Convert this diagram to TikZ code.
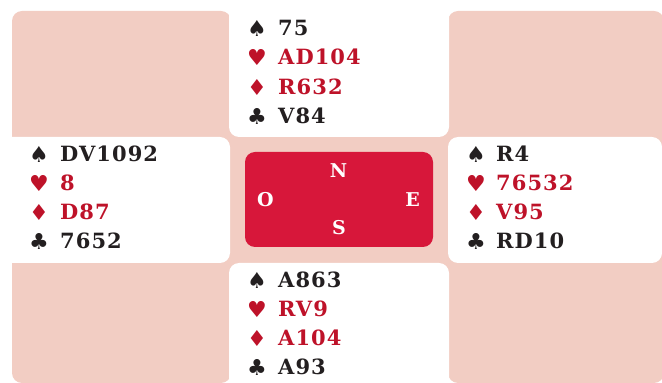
\documentclass[tikz,border=0pt]{standalone}
\usepackage{fontspec}
\newfontfamily\cardf[LetterSpace=5]{DejaVu Serif}
\newfontfamily\suitf{DejaVu Sans}
\definecolor{pinkbg}{HTML}{F2CDC3}
\definecolor{boxred}{HTML}{D7173A}
\definecolor{cardred}{HTML}{BE1229}
\definecolor{cardblack}{HTML}{231F20}
\tikzset{
  pinkbox/.style={fill=pinkbg, draw=none, rounded corners=10pt},
  whitebox/.style={fill=white, draw=none, rounded corners=10pt},
  cards/.style={anchor=base west, inner sep=0pt, font=\cardf\bfseries\fontsize{21}{24}\selectfont},
  suit/.style={anchor=center, inner sep=0pt, font=\suitf\fontsize{22}{24}\selectfont},
  compass/.style={anchor=center, inner sep=0pt, text=white, font=\cardf\bfseries\fontsize{19}{22}\selectfont},
  blk/.style={text=cardblack},
  rd/.style={text=cardred}
}
\begin{document}
\begin{tikzpicture}[x=1pt,y=1pt]
\useasboundingbox (0,0) rectangle (662,383);
% pink corner boxes and centre band
\fill[pinkbox] (12,372) rectangle (231,233);
\fill[pinkbox] (448,372) rectangle (664,233);
\fill[pinkbox] (12,133) rectangle (231,0);
\fill[pinkbox] (448,133) rectangle (664,0);
\fill[pinkbg] (220,256) rectangle (458,111);
% white hand boxes
\fill[whitebox] (229,398) rectangle (449,246);
\fill[whitebox] (-15,246) rectangle (230,120);
\fill[whitebox] (448,246) rectangle (662,120);
\fill[whitebox] (229,120) rectangle (449,-15);
% centre table
\node[fill=boxred, rounded corners=10pt, minimum width=188pt, minimum height=95pt, inner sep=0pt] (table) at (339,183.5) {};
\node[compass] (cN) at (338.5,212.5) {N};
\node[compass] (cO) at (265.5,183) {O};
\node[compass] (cE) at (412.7,183) {E};
\node[compass] (cS) at (339,155) {S};
% North
\node[suit,blk] (ns) at (257,355) {♠};
\node[suit,rd]  (nh) at (257,325.5) {♥};
\node[suit,rd]  (nd) at (257,296) {♦};
\node[suit,blk] (nc) at (257,266.5) {♣};
\node[cards,blk] (nst) at (278,347.7) {75};
\node[cards,rd]  (nht) at (278,318.2) {AD104};
\node[cards,rd]  (ndt) at (278,288.7) {R632};
\node[cards,blk] (nct) at (278,259.2) {V84};
% West
\node[suit,blk] (ws) at (39,229) {♠};
\node[suit,rd]  (wh) at (39,200) {♥};
\node[suit,rd]  (wd) at (39,170.5) {♦};
\node[suit,blk] (wc) at (39,141.5) {♣};
\node[cards,blk] (wst) at (60,221.7) {DV1092};
\node[cards,rd]  (wht) at (60,192.7) {8};
\node[cards,rd]  (wdt) at (60,163.2) {D87};
\node[cards,blk] (wct) at (60,134.2) {7652};
% East
\node[suit,blk] (es) at (476,229) {♠};
\node[suit,rd]  (eh) at (476,200) {♥};
\node[suit,rd]  (ed) at (476,170.5) {♦};
\node[suit,blk] (ec) at (476,141.5) {♣};
\node[cards,blk] (est) at (496,221.7) {R4};
\node[cards,rd]  (eht) at (496,192.7) {76532};
\node[cards,rd]  (edt) at (496,163.2) {V95};
\node[cards,blk] (ect) at (496,134.2) {RD10};
% South
\node[suit,blk] (ss) at (257,103) {♠};
\node[suit,rd]  (sh) at (257,73.5) {♥};
\node[suit,rd]  (sd) at (257,44.5) {♦};
\node[suit,blk] (sc) at (257,15.5) {♣};
\node[cards,blk] (sst) at (278,95.7) {A863};
\node[cards,rd]  (sht) at (278,66.2) {RV9};
\node[cards,rd]  (sdt) at (278,37.2) {A104};
\node[cards,blk] (sct) at (278,8.2) {A93};
\end{tikzpicture}
\end{document}
